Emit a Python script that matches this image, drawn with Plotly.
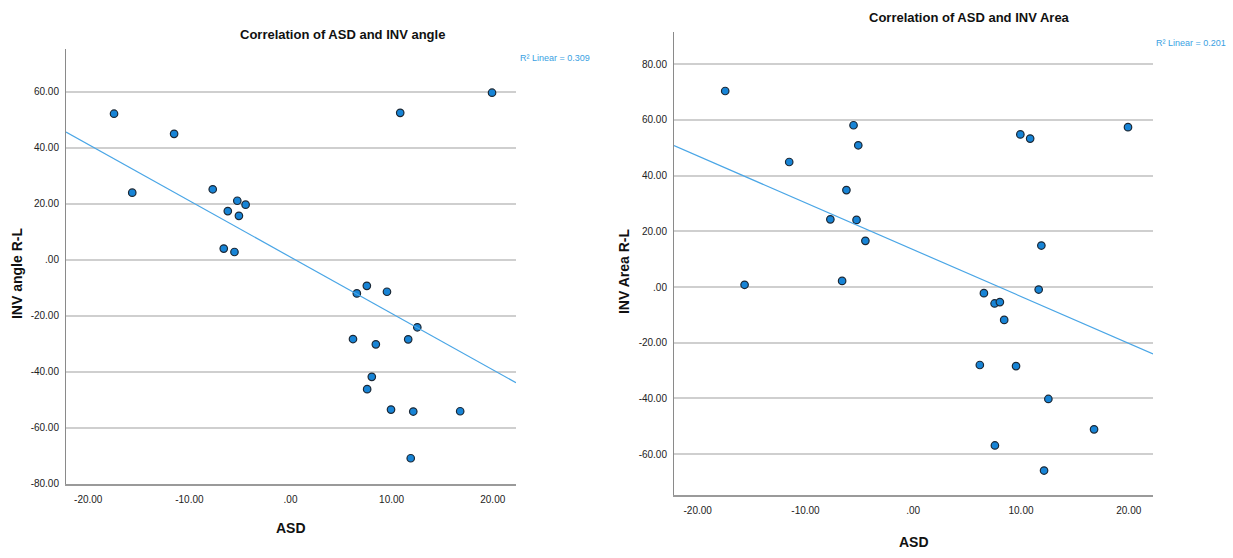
import numpy as np
import plotly.graph_objects as go

# ---- data ----
asd = [-17.45, -15.65, -11.51, -7.69, -6.60, -6.20, -5.54, -5.26, -5.10, -4.44,
       6.18, 6.56, 7.55, 7.58, 8.04, 8.44, 9.54, 9.94, 10.85, 11.64,
       11.89, 12.14, 12.54, 16.78, 19.93]
inv_angle = [52.2, 24.0, 45.0, 25.2, 4.0, 17.4, 2.8, 21.1, 15.7, 19.7,
             -28.3, -12.0, -9.3, -46.2, -41.8, -30.2, -11.4, -53.5, 52.5, -28.4,
             -70.9, -54.2, -24.1, -54.1, 59.7]
inv_area = [70.4, 0.8, 44.9, 24.3, 2.2, 34.8, 58.1, 24.1, 50.9, 16.6,
            -28.0, -2.2, -5.9, -56.9, -5.4, -11.8, -28.4, 54.8, 53.3, -0.9,
            14.9, -65.9, -40.2, -51.1, 57.4]

titles = ["Correlation of ASD and INV angle", "Correlation of ASD and INV Area"]
y_titles = ["INV angle R-L", "INV Area R-L"]
x_title = "ASD"
r2_labels = ["R² Linear = 0.309", "R² Linear = 0.201"]

x_ticks = [-20, -10, 0, 10, 20]
x_ticktext = ["-20.00", "-10.00", ".00", "10.00", "20.00"]
y1_ticks = [-80, -60, -40, -20, 0, 20, 40, 60]
y1_ticktext = ["-80.00", "-60.00", "-40.00", "-20.00", ".00", "20.00", "40.00", "60.00"]
y2_ticks = [-60, -40, -20, 0, 20, 40, 60, 80]
y2_ticktext = ["-60.00", "-40.00", "-20.00", ".00", "20.00", "40.00", "60.00", "80.00"]

# ---- styling ----
W, H = 1233, 558
MARKER_FILL = "#1784d6"
MARKER_EDGE = "#1c2835"
FIT_COLOR = "#4aa6e6"
GRID = "#cfcfcf"
FAMILY = "Liberation Sans Narrow, Arial Narrow, Liberation Sans, Arial"
TICK_FONT = dict(family=FAMILY, size=10, color="#222")
TITLE_FONT = dict(family=FAMILY, size=13, color="#111", weight="bold")
AXIS_TITLE_FONT = dict(family="Liberation Sans, Arial", size=14, color="#111", weight="bold")
R2_FONT = dict(family=FAMILY, size=9, color="#3a9fe2")

x_range = [-22.2, 22.3]
x_range2 = [-22.2, 22.25]
y_range1 = [-80, 75.4]
y_range2 = [-74.8, 91.6]


def px(x):
    return x / W


def py(y):
    return 1 - y / H


fig = go.Figure()

for yvals, xr, xa, ya in [(inv_angle, x_range, "x", "y"),
                          (inv_area, x_range2, "x2", "y2")]:
    fig.add_trace(go.Scatter(
        x=asd, y=yvals, mode="markers", xaxis=xa, yaxis=ya,
        marker=dict(size=7.5, color=MARKER_FILL, line=dict(color=MARKER_EDGE, width=1.2)),
        showlegend=False, hoverinfo="x+y"))
    slope, intercept = np.polyfit(asd, yvals, 1)
    fx = np.array(xr)
    fig.add_trace(go.Scatter(
        x=fx, y=slope * fx + intercept, mode="lines", xaxis=xa, yaxis=ya,
        line=dict(color=FIT_COLOR, width=1.2), showlegend=False, hoverinfo="skip"))

common_x = dict(tickvals=x_ticks, ticktext=x_ticktext, showgrid=False, zeroline=False,
                showline=True, linecolor="#9a9a9a", linewidth=2, ticks="",
                tickfont=TICK_FONT, ticklabelstandoff=5, fixedrange=True)
common_y = dict(showgrid=True, gridcolor=GRID, gridwidth=1.5, zeroline=False,
                showline=True, linecolor="#8a8a8a", linewidth=1, ticks="",
                tickfont=TICK_FONT, ticklabelstandoff=4, fixedrange=True)

fig.update_layout(
    width=W, height=H,
    margin=dict(l=0, r=0, t=0, b=0),
    paper_bgcolor="white", plot_bgcolor="white",
    xaxis=dict(domain=[px(66), px(516)], range=x_range, anchor="y", **common_x),
    yaxis=dict(domain=[py(489), py(49.3)], range=y_range1, anchor="x",
               tickvals=y1_ticks, ticktext=y1_ticktext, **common_y),
    xaxis2=dict(domain=[px(674), px(1153)], range=x_range2, anchor="y2", **common_x),
    yaxis2=dict(domain=[py(500.7), py(32.3)], range=y_range2, anchor="x2",
                tickvals=y2_ticks, ticktext=y2_ticktext, **common_y),
)

annotations = [
    dict(text=titles[0], x=px(343), y=py(35), font=TITLE_FONT),
    dict(text=titles[1], x=px(969.6), y=py(17.3), font=TITLE_FONT),
    dict(text=y_titles[0], x=px(17), y=py(277), textangle=-90, font=AXIS_TITLE_FONT),
    dict(text=y_titles[1], x=px(624), y=py(274), textangle=-90, font=AXIS_TITLE_FONT),
    dict(text=x_title, x=px(290.5), y=py(534), font=AXIS_TITLE_FONT),
    dict(text=x_title, x=px(913.5), y=py(548), font=AXIS_TITLE_FONT),
    dict(text=r2_labels[0], x=px(518), y=py(59), xanchor="left", font=R2_FONT),
    dict(text=r2_labels[1], x=px(1228), y=py(43.5), xanchor="right", font=R2_FONT),
]
for a in annotations:
    a.setdefault("xanchor", "center")
    a.update(xref="paper", yref="paper", yanchor="middle", showarrow=False)
fig.update_layout(annotations=annotations)

fig.write_html("out.html", config={"displayModeBar": False},
               post_script="document.body.style.margin='0';")
